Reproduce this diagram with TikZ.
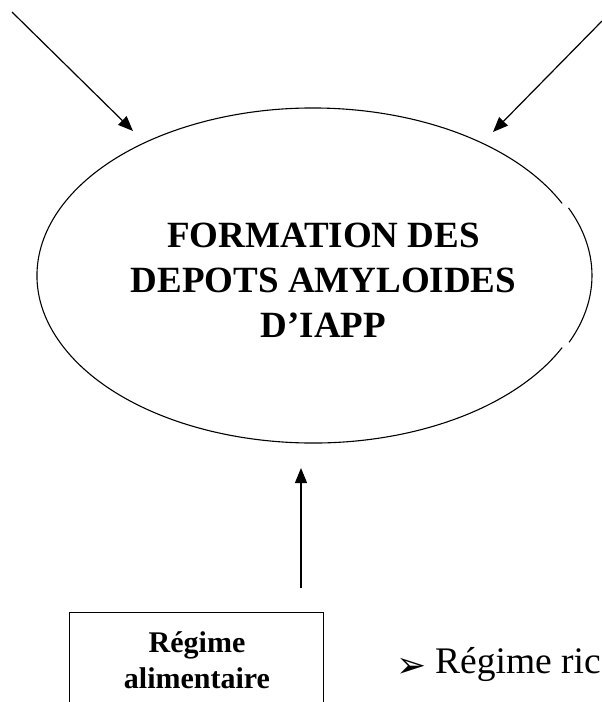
\documentclass[tikz,border=0pt]{standalone}
\usepackage{fontspec}
\setmainfont{Liberation Serif}
\newfontfamily\symfont{DejaVu Sans}
\usetikzlibrary{arrows.meta,shapes.geometric}

\tikzset{
  link/.style={line width=1.2pt,-{Triangle[length=15pt,width=12pt]}},
  outline/.style={draw,line width=1.1pt},
  heading/.style={font=\fontsize{37}{45}\selectfont\bfseries,inner sep=0pt,anchor=base},
  boxtext/.style={font=\fontsize{30}{36}\selectfont\bfseries,inner sep=0pt,anchor=base},
  plaintext/.style={font=\fontsize{37.5}{42}\selectfont,inner sep=0pt,anchor=base west}
}

\begin{document}
\begin{tikzpicture}[x=1pt,y=-1pt]
\useasboundingbox (0,0) rectangle (602,702);
\clip (0,0) rectangle (602,702);

% central ellipse, outline drawn in three arcs (the right one slightly offset)
\node[ellipse,minimum width=552pt,minimum height=335pt,inner sep=0pt] (depot) at (313,275.5) {};
\draw[line width=1.1pt] (depot.center) ++(25.5:276pt and 167.5pt)
  arc[start angle=25.5,end angle=334.5,x radius=276pt,y radius=167.5pt];
\draw[line width=1.1pt] ([xshift=3pt]depot.center) ++(-23.5:276pt and 167.5pt)
  arc[start angle=-23.5,end angle=23.8,x radius=276pt,y radius=167.5pt];
\node[heading] (h1) at (323.5,247) {FORMATION DES};
\node[heading] (h2) at (323.5,292) {DEPOTS AMYLOIDES};
\node[heading] (h3) at (323.5,337) {D’IAPP};

% incoming arrows
\coordinate (tlstart) at (12,12);
\coordinate (tlend) at (133,131);
\coordinate (trstart) at (602,21);
\coordinate (trend) at (493,132);
\coordinate (bstart) at (301,588);
\coordinate (bend) at (301,468);
\draw[link] (tlstart) -- (tlend);
\draw[link] (trstart) -- (trend);
\draw[link] (bstart) -- (bend);

% diet box
\node[outline,rectangle,minimum width=254pt,minimum height=120pt,anchor=north east,inner sep=0pt] (regime) at (324,612) {};
\node[boxtext] (r1) at (197,652) {Régime};
\node[boxtext] (r2) at (197,688) {alimentaire};

% bullet list item
\node[font=\symfont\fontsize{36}{40}\selectfont,inner sep=0pt,anchor=center] (bul) at (412,668) {➢};
\node[plaintext] (item) at (435,673) {Régime ric};
\end{tikzpicture}
\end{document}
